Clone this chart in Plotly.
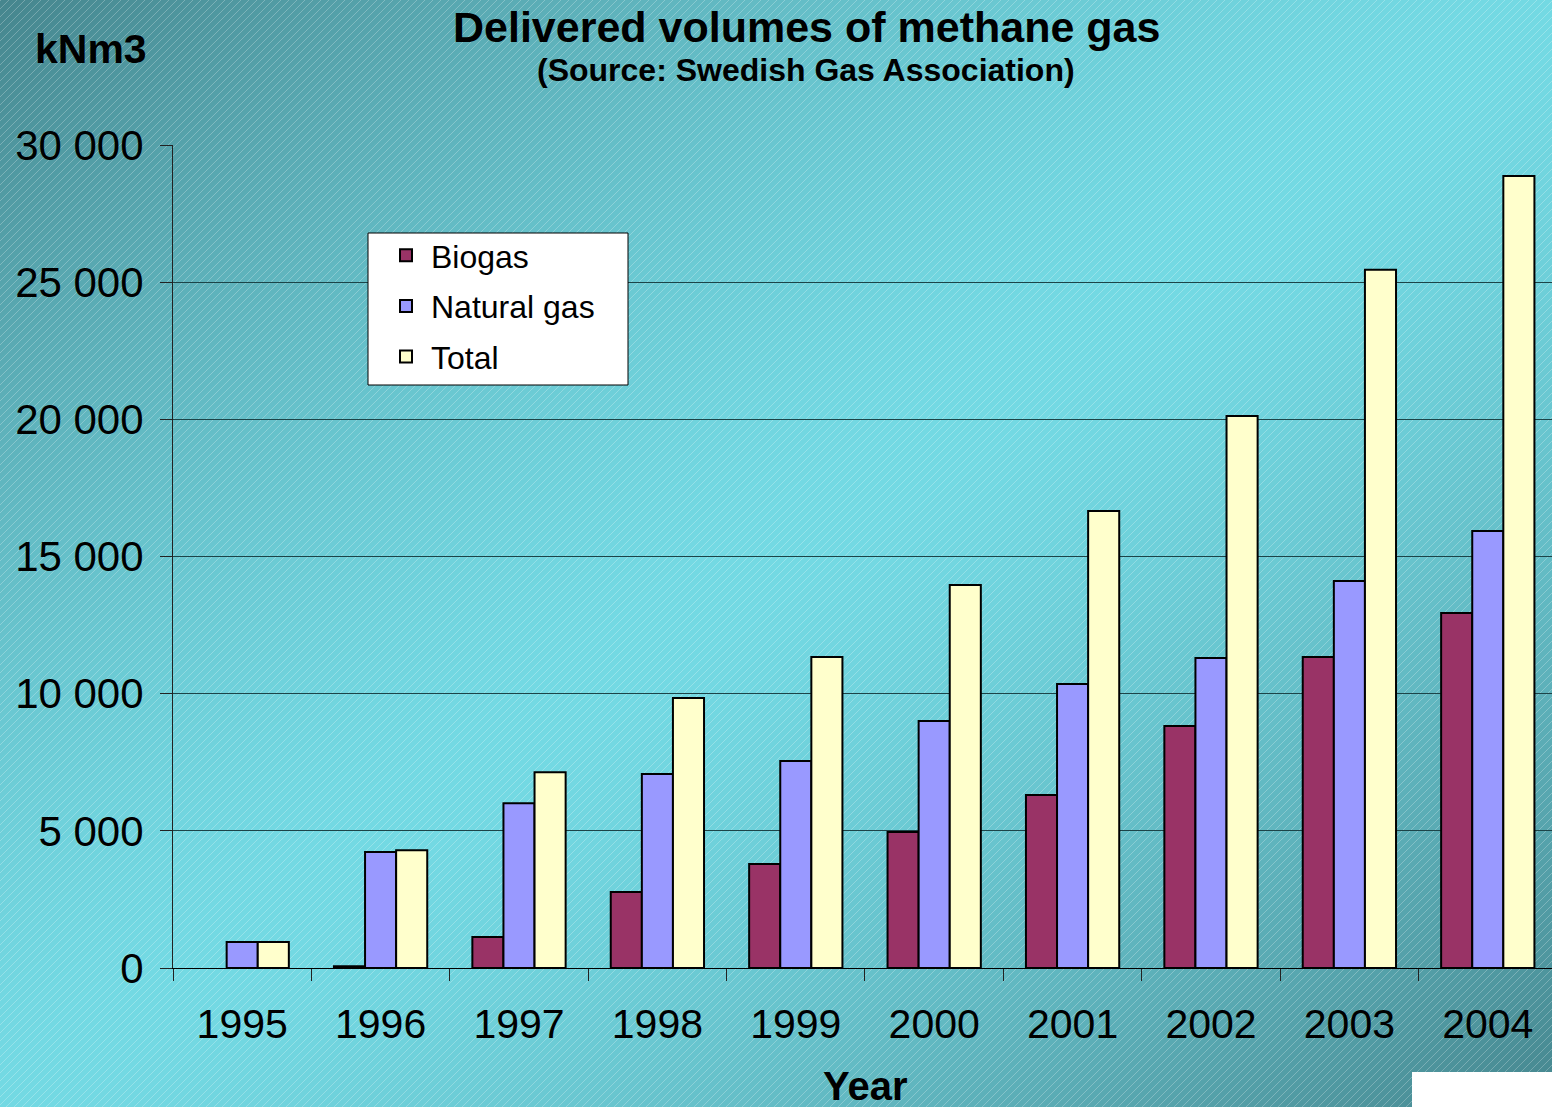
import base64
import struct
import zlib

import numpy as np
import plotly.graph_objects as go

# ---------------- data ----------------
years = ["1995", "1996", "1997", "1998", "1999", "2000", "2001", "2002", "2003", "2004"]
biogas = [None, 60, 1130, 2770, 3790, 4960, 6310, 8820, 11340, 12940]
natural_gas = [950, 4230, 6010, 7070, 7550, 9000, 10350, 11300, 14110, 15930]
total = [950, 4290, 7140, 9840, 11340, 13960, 16660, 20120, 25450, 28870]

y_tickvals = [0, 5000, 10000, 15000, 20000, 25000, 30000]
y_ticktext = ["0", "5 000", "10 000", "15 000", "20 000", "25 000", "30 000"]

# ---------------- geometry ----------------
W, H = 1552, 1107
L, T, B = 173, 145, 968  # plot area left, top, bottom (pixels)
PW = W - L
PH = B - T


def px(x):
    return (x - L) / PW


def py(y):
    return (B - y) / PH


# ---------------- background image (gradient + hatching) ----------------
def make_background():
    yy, xx = np.mgrid[0:H, 0:W].astype(np.float64)
    t = (xx / W + yy / H) / 2.0
    f = 1.0 - (np.abs(t - 0.5) / 0.5) ** 1.5
    dark = np.array([70, 134, 142], dtype=np.float64)
    bright = np.array([116, 218, 228], dtype=np.float64)
    img = dark + f[..., None] * (bright - dark)
    mask = ((xx + yy) % 8) == 0
    img[mask] = img[mask] * 0.75 + 255 * 0.25
    img = np.clip(img, 0, 255).astype(np.uint8)
    raw = b"".join(b"\x00" + img[r].tobytes() for r in range(H))

    def chunk(tag, data):
        c = struct.pack(">I", len(data)) + tag + data
        return c + struct.pack(">I", zlib.crc32(tag + data) & 0xFFFFFFFF)

    png = b"\x89PNG\r\n\x1a\n"
    png += chunk(b"IHDR", struct.pack(">IIBBBBB", W, H, 8, 2, 0, 0, 0))
    png += chunk(b"IDAT", zlib.compress(raw, 9))
    png += chunk(b"IEND", b"")
    return "data:image/png;base64," + base64.b64encode(png).decode("ascii")


bg_src = make_background()

FONT = "Liberation Sans, Arial, sans-serif"

fig = go.Figure()
series = [
    ("Biogas", biogas, "#993366"),
    ("Natural gas", natural_gas, "#9999ff"),
    ("Total", total, "#ffffcc"),
]
for i, (name, vals, color) in enumerate(series):
    fig.add_trace(
        go.Bar(
            name=name,
            x=years,
            y=vals,
            marker=dict(color=color, line=dict(color="black", width=2)),
            legendgroup=f"g{i}",
        )
    )

fig.update_layout(
    width=W,
    height=H,
    margin=dict(l=L, r=0, t=T, b=H - B, pad=0),
    paper_bgcolor="rgba(0,0,0,0)",
    plot_bgcolor="rgba(0,0,0,0)",
    barmode="group",
    bargap=0.326,
    bargroupgap=0,
    font=dict(family=FONT, color="black"),
    showlegend=True,
    legend=dict(
        x=px(381),
        y=py(228),
        xanchor="left",
        yanchor="top",
        bgcolor="rgba(0,0,0,0)",
        borderwidth=0,
        font=dict(size=32, family=FONT, color="black"),
        traceorder="grouped",
        tracegroupgap=6,
        itemwidth=40,
        itemclick=False,
    ),
    images=[
        dict(
            source=bg_src,
            xref="paper",
            yref="paper",
            x=-L / PW,
            y=1 + T / PH,
            sizex=W / PW,
            sizey=H / PH,
            sizing="stretch",
            xanchor="left",
            yanchor="top",
            layer="below",
        )
    ],
    xaxis=dict(
        type="category",
        range=[-0.5, 9.464],
        showgrid=False,
        showline=True,
        linecolor="black",
        linewidth=1,
        ticks="outside",
        tickson="boundaries",
        ticklen=12,
        tickcolor="#222222",
        tickfont=dict(size=41, family=FONT, color="black"),
        ticklabelstandoff=20,
        zeroline=False,
    ),
    yaxis=dict(
        range=[0, 30000],
        tickvals=y_tickvals,
        ticktext=y_ticktext,
        showgrid=True,
        gridcolor="#1c4448",
        gridwidth=1,
        showline=True,
        linecolor="#222222",
        linewidth=1,
        ticks="outside",
        ticklen=12,
        tickcolor="#222222",
        tickfont=dict(size=42, family=FONT, color="black"),
        ticklabelstandoff=8,
        zeroline=False,
    ),
    shapes=[
        # legend box
        dict(
            type="rect",
            xref="paper",
            yref="paper",
            x0=px(368),
            x1=px(628),
            y0=py(385),
            y1=py(233),
            fillcolor="white",
            line=dict(color="black", width=1),
            layer="above",
        ),
        # white patch bottom right
        dict(
            type="rect",
            xref="paper",
            yref="paper",
            x0=px(1412),
            x1=px(1552),
            y0=py(1072),
            y1=py(1107),
            fillcolor="white",
            line=dict(width=0),
            layer="above",
        ),
    ],
    annotations=[
        dict(
            text="<b>Delivered volumes of methane gas</b>",
            xref="paper", yref="paper", x=px(806), y=py(27),
            xanchor="center", yanchor="middle", showarrow=False,
            font=dict(size=43, family=FONT, color="black"),
        ),
        dict(
            text="<b>(Source: Swedish Gas Association)</b>",
            xref="paper", yref="paper", x=px(806), y=py(70),
            xanchor="center", yanchor="middle", showarrow=False,
            font=dict(size=32, family=FONT, color="black"),
        ),
        dict(
            text="<b>kNm3</b>",
            xref="paper", yref="paper", x=px(91), y=py(49),
            xanchor="center", yanchor="middle", showarrow=False,
            font=dict(size=41, family=FONT, color="black"),
        ),
        dict(
            text="<b>Year</b>",
            xref="paper", yref="paper", x=px(865), y=py(1086),
            xanchor="center", yanchor="middle", showarrow=False,
            font=dict(size=40, family=FONT, color="black"),
        ),
    ],
)

fig.write_html(
    "out.html",
    config={"displayModeBar": False},
    post_script="document.body.style.margin='0';document.body.style.padding='0';document.body.style.overflow='hidden';",
)
